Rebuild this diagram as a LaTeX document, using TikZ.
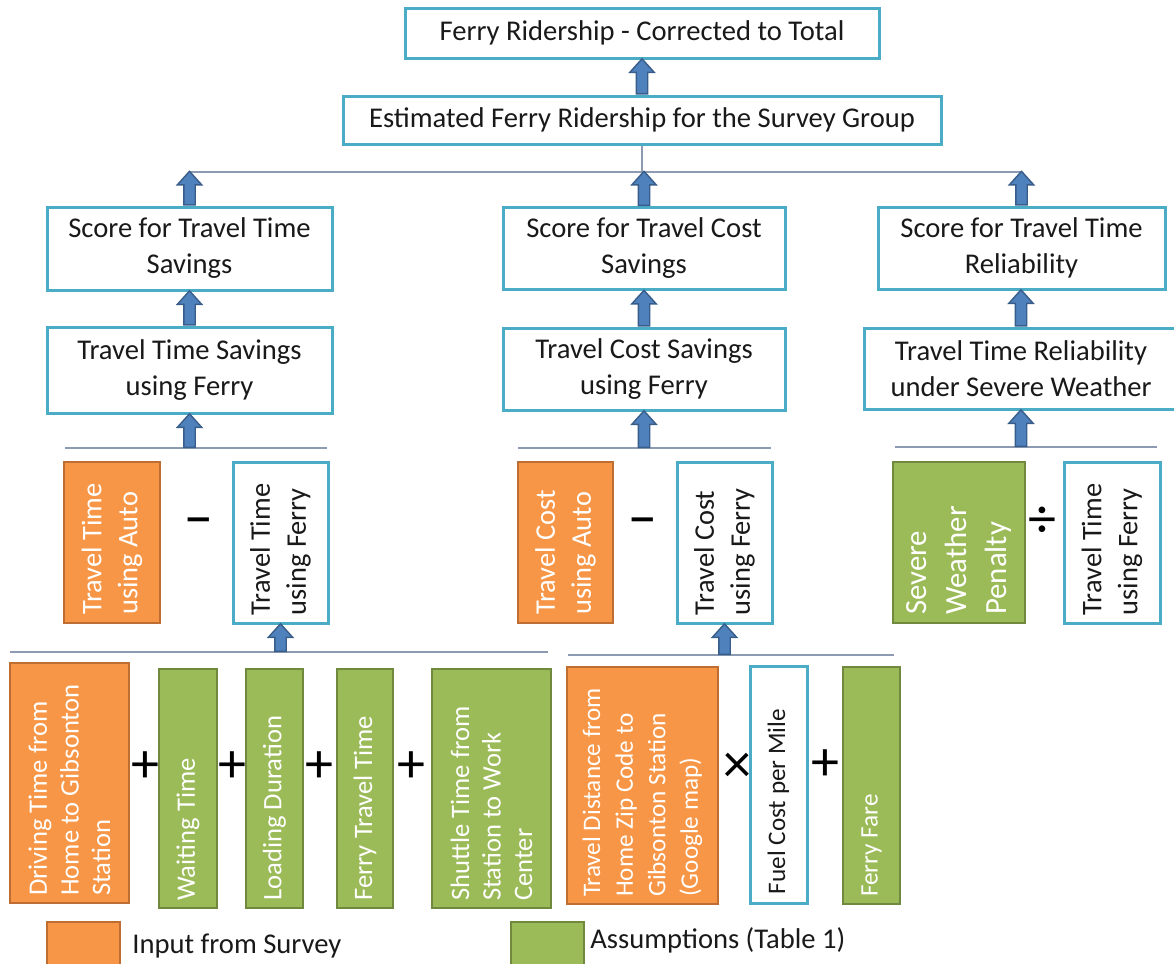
\documentclass[tikz,border=0pt]{standalone}
\usepackage{fontspec}
\setmainfont{Carlito}
\newfontfamily\opfont{DejaVu Sans}
\usepackage{tikz}
\usetikzlibrary{shapes.arrows, calc}

\definecolor{boxteal}{RGB}{75,172,198}
\definecolor{surveyorange}{RGB}{247,150,70}
\definecolor{orangeedge}{RGB}{190,110,50}
\definecolor{assumgreen}{RGB}{155,187,89}
\definecolor{greenedge}{RGB}{113,137,63}
\definecolor{arrowfill}{RGB}{79,129,189}
\definecolor{arrowedge}{RGB}{56,93,138}
\definecolor{bargray}{RGB}{140,155,178}
\definecolor{textdark}{RGB}{25,25,25}

\newcommand\topfont{\fontsize{14.3}{18}\selectfont}
\newcommand\midfont{\fontsize{14.2}{18}\selectfont}
\newcommand\lowfont{\fontsize{13.3}{15.8}\selectfont}
\newcommand\costfont{\fontsize{12.6}{16.3}\selectfont}
\newcommand\penaltyfont{\fontsize{15.4}{20}\selectfont}

% block arrow pointing up from #1 to #2
\newcommand\liftarrow[2]{%
  \path let \p1=#1, \p2=#2 in
    node[bigarrow, minimum height={\y2-(\y1)}, anchor=tail] at (\p1) {};}

\begin{document}
\begin{tikzpicture}[
  x=0.5pt, y=-0.5pt,
  calcbox/.style={draw=boxteal, line width=1.5pt, fill=white, align=center,
    inner sep=0pt, font=\topfont, text=textdark},
  plainbox/.style={draw=boxteal, line width=1.5pt, fill=white, inner sep=0pt},
  surveybox/.style={draw=orangeedge, line width=1.2pt, fill=surveyorange, inner sep=0pt},
  assumbox/.style={draw=greenedge, line width=1.2pt, fill=assumgreen, inner sep=0pt},
  vlabel/.style={rotate=90, anchor=west, align=left, inner sep=0pt, font=\midfont},
  barline/.style={draw=bargray, line width=1pt},
  opsign/.style={inner sep=0pt, text=black, font=\fontsize{28}{28}\selectfont},
  minussign/.style={inner sep=0pt, text=black, font=\opfont\bfseries\fontsize{17}{17}\selectfont},
  bigarrow/.style={single arrow, draw=arrowedge, fill=arrowfill, line width=0.7pt,
    rotate=90, inner xsep=0pt, inner ysep=2.5pt, single arrow head extend=3.25pt,
    single arrow tip angle=84, single arrow head indent=0pt}
  ]
\useasboundingbox (0,0) rectangle (1174,964);

% results
\node[calcbox, minimum width=237pt, minimum height=25pt] (total) at (642,33) {Ferry Ridership - Corrected to Total};
\node[calcbox, minimum width=299pt, minimum height=24pt] (survey) at (642,120) {Estimated Ferry Ridership for the Survey Group};

% scores
\node[calcbox, minimum width=142.5pt, minimum height=41.5pt] (scoreT) at (189.5,248.5) {Score for Travel Time\\Savings};
\node[calcbox, minimum width=141pt, minimum height=41pt] (scoreC) at (644,248.5) {Score for Travel Cost\\Savings};
\node[calcbox, minimum width=143.5pt, minimum height=41pt] (scoreR) at (1021.5,248) {Score for Travel Time\\Reliability};

% savings
\node[calcbox, minimum width=142.5pt, minimum height=43pt] (saveT) at (189.5,370) {Travel Time Savings\\using Ferry};
\node[calcbox, minimum width=141pt, minimum height=41pt] (saveC) at (644,369) {Travel Cost Savings\\using Ferry};
\node[calcbox, minimum width=157pt, minimum height=40.5pt] (saveR) at (1021,368.5) {Travel Time Reliability\\under Severe Weather};

% middle row
\node[surveybox, minimum width=48pt, minimum height=80.5pt] (autoT) at (112,542.5) {};
\node[plainbox, minimum width=47.5pt, minimum height=80.5pt] (ferryT) at (280.5,542.5) {};
\node[surveybox, minimum width=47.5pt, minimum height=80.5pt] (autoC) at (565.5,542.5) {};
\node[plainbox, minimum width=47.5pt, minimum height=80.5pt] (ferryC) at (724.5,542.5) {};
\node[assumbox, minimum width=66pt, minimum height=80.5pt] (penalty) at (959,542.5) {};
\node[plainbox, minimum width=48pt, minimum height=80.5pt] (ferryR) at (1112,542.5) {};

\node[vlabel, text=white] (autoT-t) at ([yshift=4.5pt]autoT.south) {Travel Time\\using Auto};
\node[vlabel, text=textdark] (ferryT-t) at ([yshift=4.5pt]ferryT.south) {Travel Time\\using Ferry};
\node[vlabel, text=white] (autoC-t) at ([yshift=4.5pt]autoC.south) {Travel Cost\\using Auto};
\node[vlabel, text=textdark] (ferryC-t) at ([yshift=4.5pt]ferryC.south) {Travel Cost\\using Ferry};
\node[vlabel, text=white, font=\penaltyfont] (penalty-t) at ([yshift=4.5pt]penalty.south) {Severe\\Weather\\Penalty};
\node[vlabel, text=textdark] (ferryR-t) at ([yshift=4.5pt]ferryR.south) {Travel Time\\using Ferry};

\node[minussign] (minusT) at (199,524) {−};
\node[minussign] (minusC) at (643,524) {−};
\node[opsign] (divR) at (1042,522) {÷};

% bottom row
\node[surveybox, minimum width=59.5pt, minimum height=120pt] (drive) at (69.5,783) {};
\node[assumbox, minimum width=29pt, minimum height=119.5pt] (wait) at (188,788.5) {};
\node[assumbox, minimum width=28.5pt, minimum height=119.5pt] (load) at (274.5,788.5) {};
\node[assumbox, minimum width=28pt, minimum height=119.5pt] (sail) at (365,788.5) {};
\node[assumbox, minimum width=59.5pt, minimum height=119.5pt] (shuttle) at (491.5,788.5) {};
\node[surveybox, minimum width=75.5pt, minimum height=118.5pt] (dist) at (642.5,785.5) {};
\node[plainbox, minimum width=28.5pt, minimum height=118.5pt] (fuel) at (778.5,784.5) {};
\node[assumbox, minimum width=28.5pt, minimum height=118.5pt] (fare) at (871.5,785.5) {};

\node[vlabel, text=white, font=\lowfont] (drive-t) at ([yshift=4pt]drive.south) {Driving Time from\\Home to Gibsonton\\Station};
\node[vlabel, text=white, font=\lowfont] (wait-t) at ([yshift=4pt]wait.south) {Waiting Time};
\node[vlabel, text=white, font=\lowfont] (load-t) at ([yshift=4pt]load.south) {Loading Duration};
\node[vlabel, text=white, font=\lowfont] (sail-t) at ([yshift=4pt]sail.south) {Ferry Travel Time};
\node[vlabel, text=white, font=\lowfont] (shuttle-t) at ([yshift=4pt]shuttle.south) {Shuttle Time from\\Station to Work\\Center};
\node[vlabel, text=white, font=\costfont] (dist-t) at ([yshift=4pt]dist.south) {Travel Distance from\\Home Zip Code to\\Gibsonton Station\\(Google map)};
\node[vlabel, text=textdark, font=\costfont] (fuel-t) at ([yshift=5pt]fuel.south) {Fuel Cost per Mile};
\node[vlabel, text=white, font=\costfont] (fare-t) at ([yshift=4pt]fare.south) {Ferry Fare};

\foreach \x [count=\i] in {145,232,319,411}
  \node[opsign] (plus\i) at (\x,767) {+};
\node[opsign] (timesD) at (737,768) {×};
\node[opsign] (plusF) at (825,765) {+};

% connectors
\liftarrow{(survey.north)}{(total.south)}
\coordinate (topL) at (189.5,172);
\coordinate (topR) at (1021.5,172);
\draw[barline] (topL) -- (topR);
\draw[barline] (survey.south) -- (survey.south |- topL);
\foreach \s in {scoreT,scoreC,scoreR}
  \liftarrow{(\s.north)}{(\s.north |- topL)};
\foreach \src/\dst in {saveT/scoreT,saveC/scoreC,saveR/scoreR}
  \liftarrow{(\src.north)}{(\dst.south)};

\draw[barline] (65,448) coordinate (barTw) -- (327,448);
\draw[barline] (518,448) coordinate (barCw) -- (771,448);
\draw[barline] (895,447) coordinate (barRw) -- (1157,447);
\liftarrow{(saveT.south |- barTw)}{(saveT.south)}
\liftarrow{(saveC.south |- barCw)}{(saveC.south)}
\liftarrow{(saveR.south |- barRw)}{(saveR.south)}

\draw[barline] (10,652) coordinate (barDw) -- (548,652);
\draw[barline] (568,655) coordinate (barFw) -- (894,655);
\liftarrow{(ferryT.south |- barDw)}{(ferryT.south)}
\liftarrow{(ferryC.south |- barFw)}{(ferryC.south)}

% legend
\node[surveybox, minimum width=36.5pt, minimum height=36.5pt] (keyS) at (83.5,958.5) {};
\node[anchor=west, inner sep=0pt, font=\topfont, text=textdark] (keyS-t) at (132,946) {Input from Survey};
\node[assumbox, minimum width=36.5pt, minimum height=36.5pt] (keyA) at (547.5,958.5) {};
\node[anchor=west, inner sep=0pt, font=\topfont, text=textdark] (keyA-t) at (590,940) {Assumptions (Table 1)};

\end{tikzpicture}
\end{document}
